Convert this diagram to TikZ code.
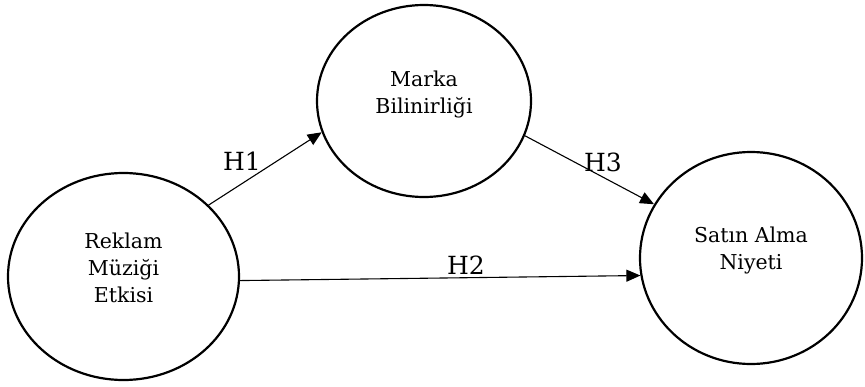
\documentclass[tikz,border=0pt]{standalone}
\usepackage{fontspec}
\setmainfont{DejaVu Serif}
\usetikzlibrary{shapes.geometric,arrows.meta}

\tikzset{
  construct/.style={ellipse, draw=black, line width=2.2pt, inner sep=0pt, fill=white},
  ctext/.style={align=center, font=\fontsize{20.5}{27}\selectfont},
  path arrow/.style={line width=1.1pt, -{Triangle[length=14pt,width=12pt]}},
  hyp/.style={font=\fontsize{25}{28}\selectfont, inner sep=0pt}
}

\begin{document}
\begin{tikzpicture}[x=1pt, y=-1pt]
  \useasboundingbox (0,0) rectangle (865,386);

  % latent constructs
  \node[construct, minimum width=231pt, minimum height=207pt] (rme) at (123.5,276.5) {};
  \node[construct, minimum width=214pt, minimum height=192pt] (mb)  at (424,101) {};
  \node[construct, minimum width=222pt, minimum height=212pt] (san) at (751,258) {};

  % construct names
  \node[ctext] (rme-t) at (123.5,268) {Reklam\\Müziği\\Etkisi};
  \node[ctext] (mb-t)  at (424,94)   {Marka\\Bilinirliği};
  \node[ctext] (san-t) at (751,250)  {Satın Alma\\Niyeti};

  % hypothesised paths
  \draw[path arrow] (rme.40.6) -- (mb.197.4);
  \draw[path arrow] (mb.-19.8) -- (san.151);
  \draw[path arrow] (rme.-2.75) -- (san.189.2);

  % hypothesis labels
  \node[hyp] (h1) at (242,161) {H1};
  \node[hyp] (h3) at (603,162) {H3};
  \node[hyp] (h2) at (466,265) {H2};
\end{tikzpicture}
\end{document}
